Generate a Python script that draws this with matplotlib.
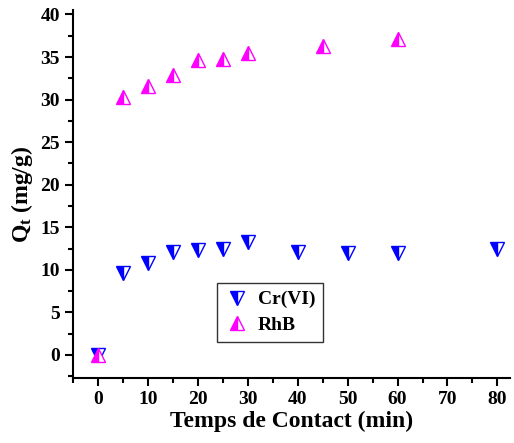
import matplotlib
matplotlib.use("Agg")
import matplotlib.pyplot as plt
from matplotlib.ticker import MultipleLocator

time_cr = [0, 5, 10, 15, 20, 25, 30, 40, 50, 60, 80]
q_cr = [0, 9.6, 10.8, 12.1, 12.3, 12.4, 13.3, 12.1, 12.0, 12.0, 12.4]
time_rhb = [0, 5, 10, 15, 20, 25, 30, 45, 60]
q_rhb = [0, 30.3, 31.6, 32.9, 34.7, 34.8, 35.5, 36.3, 37.1]

plt.rcParams['font.family'] = ['Liberation Serif', 'DejaVu Serif']
plt.rcParams['font.weight'] = 'bold'
plt.rcParams['mathtext.fontset'] = 'custom'
plt.rcParams['mathtext.rm'] = 'Liberation Serif:bold'
plt.rcParams['mathtext.bf'] = 'Liberation Serif:bold'
plt.rcParams['mathtext.it'] = 'Liberation Serif:bold'

fig = plt.figure(figsize=(5.14, 4.43), dpi=100)
ax = fig.add_axes([0.142, 0.147, 0.85, 0.83])

ax.plot(time_cr, q_cr, linestyle='none', marker='v', ms=9.5, color='blue',
        markerfacecolor='blue', markerfacecoloralt='white', fillstyle='left',
        markeredgecolor='blue', markeredgewidth=1, label='Cr(VI)')
ax.plot(time_rhb, q_rhb, linestyle='none', marker='^', ms=9.5, color='magenta',
        markerfacecolor='magenta', markerfacecoloralt='white', fillstyle='left',
        markeredgecolor='magenta', markeredgewidth=1, label='RhB')

ax.set_xlim(-5, 82.5)
ax.set_ylim(-2.7, 40.5)
ax.xaxis.set_major_locator(MultipleLocator(10))
ax.xaxis.set_minor_locator(MultipleLocator(5))
ax.yaxis.set_major_locator(MultipleLocator(5))
ax.yaxis.set_minor_locator(MultipleLocator(2.5))
for s in ['top', 'right']:
    ax.spines[s].set_visible(False)
for s in ['left', 'bottom']:
    ax.spines[s].set_linewidth(1.5)
ax.tick_params(which='major', direction='out', length=6, width=1.5, labelsize=14)
ax.tick_params(which='minor', direction='out', length=3.5, width=1.5)
for lab in ax.get_xticklabels() + ax.get_yticklabels():
    lab.set_fontweight('bold')

ax.set_xlabel('Temps de Contact (min)', fontsize=17, fontweight='bold', labelpad=2)
ax.set_ylabel(r'Q$_\mathrm{t}$ (mg/g)', fontsize=17, fontweight='bold')

leg = ax.legend(loc='upper left', bbox_to_anchor=(0.33, 0.258), borderaxespad=0,
                frameon=True, fancybox=False, edgecolor='black', handletextpad=0.5,
                borderpad=0.4, handlelength=1.2, labelspacing=0.4,
                prop={'weight': 'bold', 'size': 14})
leg.get_frame().set_linewidth(1.0)

fig.savefig('out.png', dpi=100)
